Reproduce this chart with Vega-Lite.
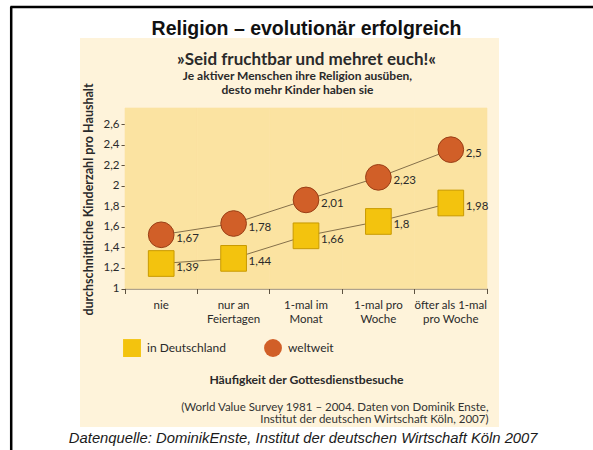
{
  "$schema": "https://vega.github.io/schema/vega-lite/v6.json",
  "width": 419,
  "height": 389,
  "autosize": {"type": "none"},
  "padding": {"left": 80, "top": 38, "right": 94, "bottom": 23},
  "background": "white",
  "config": {
    "locale": {"number": {"decimal": ",", "thousands": ".", "grouping": [3], "currency": ["", " €"]}},
    "view": {"fill": "#FEF3DA", "stroke": null},
    "font": "Lato",
    "axis": {"grid": false, "labelFont": "Lato", "titleFont": "Lato", "labelColor": "#2a2a2a", "titleColor": "#2a2a2a"}
  },
  "title": {
    "text": "Religion – evolutionär erfolgreich",
    "subtitle": "»Seid fruchtbar und mehret euch!«",
    "anchor": "middle",
    "frame": "group",
    "offset": -62,
    "dx": 17,
    "font": "Liberation Sans",
    "fontSize": 19.5,
    "fontWeight": "bold",
    "color": "#111111",
    "subtitleFont": "Lato",
    "subtitleFontSize": 17,
    "subtitleFontWeight": "bold",
    "subtitleColor": "#2a2a2a",
    "subtitlePadding": 12
  },
  "datasets": {
    "kinder": [
      {"haeufigkeit": "nie", "gebiet": "in Deutschland", "kinder": 1.39},
      {"haeufigkeit": "nur an Feiertagen", "gebiet": "in Deutschland", "kinder": 1.44},
      {"haeufigkeit": "1-mal im Monat", "gebiet": "in Deutschland", "kinder": 1.66},
      {"haeufigkeit": "1-mal pro Woche", "gebiet": "in Deutschland", "kinder": 1.8},
      {"haeufigkeit": "öfter als 1-mal pro Woche", "gebiet": "in Deutschland", "kinder": 1.98},
      {"haeufigkeit": "nie", "gebiet": "weltweit", "kinder": 1.67},
      {"haeufigkeit": "nur an Feiertagen", "gebiet": "weltweit", "kinder": 1.78},
      {"haeufigkeit": "1-mal im Monat", "gebiet": "weltweit", "kinder": 2.01},
      {"haeufigkeit": "1-mal pro Woche", "gebiet": "weltweit", "kinder": 2.23},
      {"haeufigkeit": "öfter als 1-mal pro Woche", "gebiet": "weltweit", "kinder": 2.5}
    ]
  },
  "data": {"name": "kinder"},
  "layer": [
    {
      "transform": [{"filter": "datum.gebiet === 'weltweit'"}],
      "mark": {"type": "rect", "color": "#FBE3A1", "stroke": "#FBE3A1", "strokeWidth": 0.6},
      "encoding": {
        "x": {
          "field": "haeufigkeit", "type": "nominal",
          "sort": ["nie", "nur an Feiertagen", "1-mal im Monat", "1-mal pro Woche", "öfter als 1-mal pro Woche"],
          "scale": {"type": "band", "range": [45, 407], "paddingInner": 0, "paddingOuter": 0},
          "axis": {
            "orient": "bottom", "offset": -138.5, "bandPosition": 1, "domain": false, "labels": false,
            "ticks": true, "tickSize": 5, "tickColor": "#5E5240", "title": null
          }
        },
        "y": {
          "datum": 1, "type": "quantitative",
          "scale": {"domain": [1, 2.76], "range": [250.5, 70], "nice": false, "zero": false},
          "axis": null
        },
        "y2": {"datum": 2.76}
      }
    },
    {
      "layer": [
        {
          "mark": {"type": "line", "color": "#85704A", "strokeWidth": 1, "yOffset": 15},
          "encoding": {
            "x": {
              "field": "haeufigkeit", "type": "nominal",
              "sort": ["nie", "nur an Feiertagen", "1-mal im Monat", "1-mal pro Woche", "öfter als 1-mal pro Woche"],
              "scale": {"type": "band", "range": [45, 407], "paddingInner": 0, "paddingOuter": 0}
            },
            "y": {
              "field": "kinder", "type": "quantitative",
              "scale": {"domain": [1, 2.76], "range": [250.5, 70], "nice": false, "zero": false}
            },
            "detail": {"field": "gebiet"}
          }
        },
        {
          "mark": {"type": "point", "filled": true, "opacity": 1, "strokeWidth": 1, "yOffset": 15, "size": 660},
          "encoding": {
            "x": {
              "field": "haeufigkeit", "type": "nominal",
              "sort": ["nie", "nur an Feiertagen", "1-mal im Monat", "1-mal pro Woche", "öfter als 1-mal pro Woche"],
              "scale": {"type": "band", "range": [45, 407], "paddingInner": 0, "paddingOuter": 0},
              "axis": {
                "orient": "bottom", "offset": -138.5,
                "domainColor": "#5E5240", "ticks": false, "labelAngle": 0, "labelAlign": "center",
                "labelFontSize": 11.5, "labelPadding": 11, "labelLineHeight": 14, "labelBaseline": "top",
                "labelExpr": "datum.label == 'nur an Feiertagen' ? ['nur an', 'Feiertagen'] : datum.label == '1-mal im Monat' ? ['1-mal im', 'Monat'] : datum.label == '1-mal pro Woche' ? ['1-mal pro', 'Woche'] : datum.label == 'öfter als 1-mal pro Woche' ? ['öfter als 1-mal', 'pro Woche'] : datum.label",
                "title": "Häufigkeit der Gottesdienstbesuche",
                "titleX": 226, "titleY": 90.5, "titleAlign": "center", "titleBaseline": "middle", "titleAngle": 0,
                "titleFontSize": 12.2, "titleFontWeight": "bold"
              }
            },
            "y": {
              "field": "kinder", "type": "quantitative",
              "scale": {"domain": [1, 2.76], "range": [250.5, 70], "nice": false, "zero": false},
              "axis": {
                "orient": "left", "offset": -45, "values": [1, 1.2, 1.4, 1.6, 1.8, 2, 2.2, 2.4, 2.6], "format": "~g",
                "domainColor": "#5E5240", "tickColor": "#5E5240", "tickSize": 4,
                "labelFontSize": 11.5, "labelPadding": 2,
                "title": "durchschnittliche Kinderzahl pro Haushalt",
                "titleX": -37, "titleY": 161, "titleAngle": -90, "titleAlign": "center", "titleBaseline": "middle",
                "titleFontSize": 12.5, "titleFontWeight": "bold"
              }
            },
            "color": {
              "field": "gebiet", "type": "nominal",
              "scale": {"domain": ["in Deutschland", "weltweit"], "range": ["#F3C30E", "#D15F28"]},
              "legend": {
                "orient": "none", "legendX": 43, "legendY": 301, "direction": "horizontal", "title": null,
                "symbolSize": 320, "symbolStrokeWidth": 0, "symbolOpacity": 1,
                "labelFontSize": 12, "labelColor": "#2a2a2a", "labelOffset": 6, "columnPadding": 38
              }
            },
            "shape": {
              "field": "gebiet", "type": "nominal",
              "scale": {"domain": ["in Deutschland", "weltweit"], "range": ["square", "circle"]},
              "legend": {
                "orient": "none", "legendX": 43, "legendY": 301, "direction": "horizontal", "title": null,
                "symbolSize": 320, "symbolStrokeWidth": 0, "symbolOpacity": 1,
                "labelFontSize": 12, "labelColor": "#2a2a2a", "labelOffset": 6, "columnPadding": 38
              }
            },
            "stroke": {
              "field": "gebiet", "type": "nominal",
              "scale": {"domain": ["in Deutschland", "weltweit"], "range": ["#C99A00", "#9A3F16"]},
              "legend": null
            }
          }
        }
      ]
    },
    {
      "mark": {"type": "text", "align": "left", "baseline": "middle", "dx": 15, "dy": 4, "yOffset": 15, "fontSize": 11.5, "color": "#2a2a2a"},
      "encoding": {
        "x": {
          "field": "haeufigkeit", "type": "nominal",
          "sort": ["nie", "nur an Feiertagen", "1-mal im Monat", "1-mal pro Woche", "öfter als 1-mal pro Woche"],
          "scale": {"type": "band", "range": [45, 407], "paddingInner": 0, "paddingOuter": 0},
          "axis": {
            "orient": "bottom", "offset": -138.5, "bandPosition": 0, "domain": false, "labels": false,
            "ticks": true, "tickSize": 5, "tickColor": "#5E5240", "title": null
          }
        },
        "y": {
          "field": "kinder", "type": "quantitative",
          "scale": {"domain": [1, 2.76], "range": [250.5, 70], "nice": false, "zero": false},
          "axis": {
            "orient": "right", "offset": 0, "domain": false, "ticks": false, "labels": false,
            "title": ["(World Value Survey 1981 – 2004. Daten von Dominik Enste,", "Institut der deutschen Wirtschaft Köln, 2007)"],
            "titleAngle": 0, "titleX": -11, "titleY": 363, "titleAlign": "right", "titleBaseline": "top",
            "titleFontSize": 11.5, "titleFontWeight": "normal", "titleLineHeight": 12.5, "titleColor": "#333333"
          }
        },
        "text": {"field": "kinder", "type": "quantitative", "format": "~g"}
      }
    },
    {
      "mark": {"type": "text", "opacity": 0},
      "encoding": {
        "x": {
          "field": "haeufigkeit", "type": "nominal",
          "sort": ["nie", "nur an Feiertagen", "1-mal im Monat", "1-mal pro Woche", "öfter als 1-mal pro Woche"],
          "scale": {"type": "band", "range": [-70, 513], "paddingInner": 0, "paddingOuter": 0},
          "axis": {
            "orient": "top", "offset": 31.5, "domain": true, "domainColor": "#000000", "domainWidth": 2.5,
            "ticks": false, "labels": false,
            "title": ["Je aktiver Menschen ihre Religion ausüben,", "desto mehr Kinder haben sie"],
            "titleX": 217, "titleY": 64, "titleAlign": "center", "titleBaseline": "top", "titleAngle": 0,
            "titleFontSize": 12, "titleFontWeight": "bold", "titleLineHeight": 14
          }
        },
        "y": {
          "field": "kinder", "type": "quantitative",
          "scale": {"domain": [-0.57474, 3.75456], "range": [412, -32], "nice": false, "zero": false},
          "axis": {
            "orient": "left", "offset": 69.3, "domain": true, "domainColor": "#000000", "domainWidth": 2.5,
            "ticks": false, "labels": false,
            "title": "Datenquelle: DominikEnste, Institut der deutschen Wirtschaft Köln 2007",
            "titleAngle": 0, "titleX": 292, "titleY": 400, "titleAlign": "center", "titleBaseline": "middle",
            "titleFont": "Liberation Sans", "titleFontSize": 14.8, "titleFontStyle": "italic", "titleFontWeight": "normal",
            "titleColor": "#1a1a1a"
          }
        },
        "text": {"field": "kinder", "type": "quantitative"}
      }
    }
  ],
  "resolve": {
    "scale": {"x": "independent", "y": "independent"},
    "axis": {"x": "independent", "y": "independent"}
  }
}
